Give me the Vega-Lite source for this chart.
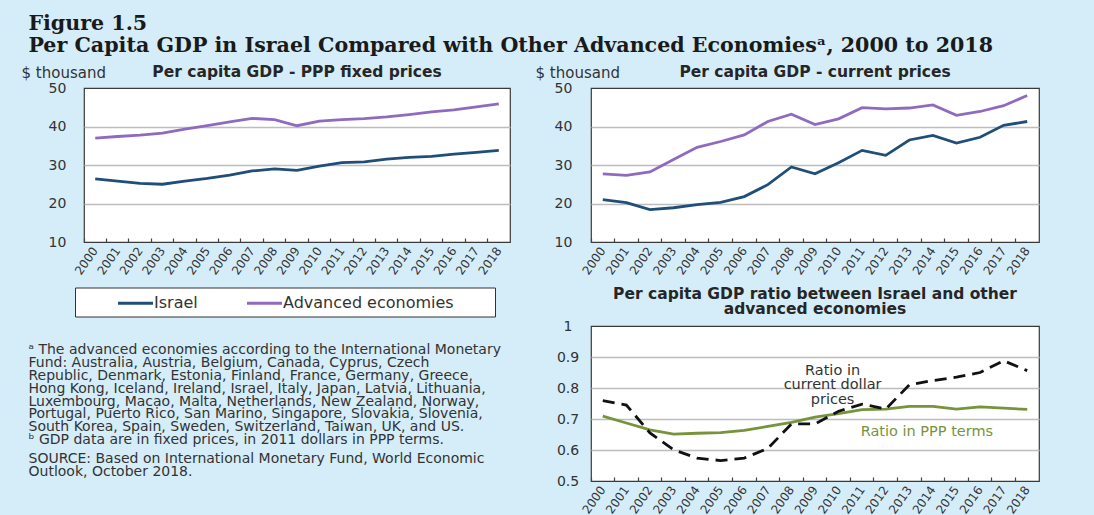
{
  "$schema": "https://vega.github.io/schema/vega-lite/v6.json",
  "background": "#d5edf9",
  "padding": {"left": 20, "top": 13, "right": 56, "bottom": 5},
  "title": {
    "text": ["Figure 1.5", "Per Capita GDP in Israel Compared with Other Advanced Economiesᵃ, 2000 to 2018"],
    "anchor": "start", "frame": "bounds", "dx": 8,
    "font": "DejaVu Serif", "fontSize": 20.6, "fontWeight": "bold", "color": "#1a1a1a",
    "lineHeight": 22, "offset": 8
  },
  "datasets": {
    "gdp": [
      {"year": 2000, "country": "Israel", "fixed": 26.4, "current": 21.0},
      {"year": 2001, "country": "Israel", "fixed": 25.8, "current": 20.2},
      {"year": 2002, "country": "Israel", "fixed": 25.25, "current": 18.4},
      {"year": 2003, "country": "Israel", "fixed": 25.0, "current": 18.9},
      {"year": 2004, "country": "Israel", "fixed": 25.8, "current": 19.7},
      {"year": 2005, "country": "Israel", "fixed": 26.5, "current": 20.3},
      {"year": 2006, "country": "Israel", "fixed": 27.4, "current": 21.8},
      {"year": 2007, "country": "Israel", "fixed": 28.45, "current": 24.9},
      {"year": 2008, "country": "Israel", "fixed": 29.0, "current": 29.5},
      {"year": 2009, "country": "Israel", "fixed": 28.6, "current": 27.7},
      {"year": 2010, "country": "Israel", "fixed": 29.7, "current": 30.6},
      {"year": 2011, "country": "Israel", "fixed": 30.6, "current": 33.8},
      {"year": 2012, "country": "Israel", "fixed": 30.8, "current": 32.5},
      {"year": 2013, "country": "Israel", "fixed": 31.5, "current": 36.5},
      {"year": 2014, "country": "Israel", "fixed": 32.0, "current": 37.7},
      {"year": 2015, "country": "Israel", "fixed": 32.25, "current": 35.7},
      {"year": 2016, "country": "Israel", "fixed": 32.85, "current": 37.2},
      {"year": 2017, "country": "Israel", "fixed": 33.3, "current": 40.3},
      {"year": 2018, "country": "Israel", "fixed": 33.8, "current": 41.3},
      {"year": 2000, "country": "Advanced economies", "fixed": 37.0, "current": 27.7},
      {"year": 2001, "country": "Advanced economies", "fixed": 37.4, "current": 27.3},
      {"year": 2002, "country": "Advanced economies", "fixed": 37.75, "current": 28.2},
      {"year": 2003, "country": "Advanced economies", "fixed": 38.3, "current": 31.4},
      {"year": 2004, "country": "Advanced economies", "fixed": 39.3, "current": 34.6},
      {"year": 2005, "country": "Advanced economies", "fixed": 40.25, "current": 36.1},
      {"year": 2006, "country": "Advanced economies", "fixed": 41.2, "current": 37.8},
      {"year": 2007, "country": "Advanced economies", "fixed": 42.1, "current": 41.3},
      {"year": 2008, "country": "Advanced economies", "fixed": 41.8, "current": 43.2},
      {"year": 2009, "country": "Advanced economies", "fixed": 40.2, "current": 40.5},
      {"year": 2010, "country": "Advanced economies", "fixed": 41.4, "current": 42.0},
      {"year": 2011, "country": "Advanced economies", "fixed": 41.8, "current": 44.9},
      {"year": 2012, "country": "Advanced economies", "fixed": 42.05, "current": 44.6},
      {"year": 2013, "country": "Advanced economies", "fixed": 42.5, "current": 44.8},
      {"year": 2014, "country": "Advanced economies", "fixed": 43.1, "current": 45.6},
      {"year": 2015, "country": "Advanced economies", "fixed": 43.8, "current": 42.9},
      {"year": 2016, "country": "Advanced economies", "fixed": 44.3, "current": 43.9},
      {"year": 2017, "country": "Advanced economies", "fixed": 45.1, "current": 45.4},
      {"year": 2018, "country": "Advanced economies", "fixed": 45.9, "current": 48.05}
    ],
    "ratio": [
      {"year": 2000, "measure": "PPP", "ratio": 0.709},
      {"year": 2001, "measure": "PPP", "ratio": 0.687},
      {"year": 2002, "measure": "PPP", "ratio": 0.665},
      {"year": 2003, "measure": "PPP", "ratio": 0.651},
      {"year": 2004, "measure": "PPP", "ratio": 0.654},
      {"year": 2005, "measure": "PPP", "ratio": 0.656},
      {"year": 2006, "measure": "PPP", "ratio": 0.663},
      {"year": 2007, "measure": "PPP", "ratio": 0.676},
      {"year": 2008, "measure": "PPP", "ratio": 0.689},
      {"year": 2009, "measure": "PPP", "ratio": 0.706},
      {"year": 2010, "measure": "PPP", "ratio": 0.717},
      {"year": 2011, "measure": "PPP", "ratio": 0.730},
      {"year": 2012, "measure": "PPP", "ratio": 0.732},
      {"year": 2013, "measure": "PPP", "ratio": 0.741},
      {"year": 2014, "measure": "PPP", "ratio": 0.741},
      {"year": 2015, "measure": "PPP", "ratio": 0.732},
      {"year": 2016, "measure": "PPP", "ratio": 0.739},
      {"year": 2017, "measure": "PPP", "ratio": 0.735},
      {"year": 2018, "measure": "PPP", "ratio": 0.731},
      {"year": 2000, "measure": "Current", "ratio": 0.759},
      {"year": 2001, "measure": "Current", "ratio": 0.745},
      {"year": 2002, "measure": "Current", "ratio": 0.655},
      {"year": 2003, "measure": "Current", "ratio": 0.601},
      {"year": 2004, "measure": "Current", "ratio": 0.574},
      {"year": 2005, "measure": "Current", "ratio": 0.566},
      {"year": 2006, "measure": "Current", "ratio": 0.574},
      {"year": 2007, "measure": "Current", "ratio": 0.605},
      {"year": 2008, "measure": "Current", "ratio": 0.684},
      {"year": 2009, "measure": "Current", "ratio": 0.684},
      {"year": 2010, "measure": "Current", "ratio": 0.725},
      {"year": 2011, "measure": "Current", "ratio": 0.748},
      {"year": 2012, "measure": "Current", "ratio": 0.732},
      {"year": 2013, "measure": "Current", "ratio": 0.81},
      {"year": 2014, "measure": "Current", "ratio": 0.824},
      {"year": 2015, "measure": "Current", "ratio": 0.835},
      {"year": 2016, "measure": "Current", "ratio": 0.85},
      {"year": 2017, "measure": "Current", "ratio": 0.888},
      {"year": 2018, "measure": "Current", "ratio": 0.856}
    ],
    "notes": [
      {"n": 1, "part": "note", "text": "ᵃ The advanced economies according to the International Monetary"},
      {"n": 2, "part": "note", "text": "Fund: Australia, Austria, Belgium, Canada, Cyprus, Czech"},
      {"n": 3, "part": "note", "text": "Republic, Denmark, Estonia, Finland, France, Germany, Greece,"},
      {"n": 4, "part": "note", "text": "Hong Kong, Iceland, Ireland, Israel, Italy, Japan, Latvia, Lithuania,"},
      {"n": 5, "part": "note", "text": "Luxembourg, Macao, Malta, Netherlands, New Zealand, Norway,"},
      {"n": 6, "part": "note", "text": "Portugal, Puerto Rico, San Marino, Singapore, Slovakia, Slovenia,"},
      {"n": 7, "part": "note", "text": "South Korea, Spain, Sweden, Switzerland, Taiwan, UK, and US."},
      {"n": 8, "part": "note", "text": "ᵇ GDP data are in fixed prices, in 2011 dollars in PPP terms."},
      {"n": 9, "part": "source", "text": "SOURCE: Based on International Monetary Fund, World Economic"},
      {"n": 10, "part": "source", "text": "Outlook, October 2018."}
    ]
  },
  "spacing": 23,
  "resolve": {"scale": {"color": "independent", "x": "independent", "y": "independent"}, "legend": {"color": "independent"}},
  "hconcat": [
    {
      "spacing": 24.5,
      "resolve": {"scale": {"color": "independent", "x": "independent", "y": "independent"}, "legend": {"color": "independent"}},
      "vconcat": [
        {
          "width": 426, "height": 154,
          "data": {"name": "gdp"},
          "title": {"text": "Per capita GDP - PPP fixed prices", "offset": -15},
          "mark": {"type": "line", "strokeWidth": 2.8},
          "encoding": {
            "x": {
              "field": "year", "type": "ordinal",
              "scale": {"type": "band", "paddingInner": 0, "paddingOuter": 0},
              "axis": {"title": null, "labelAngle": -55, "labelAlign": "right", "labelBaseline": "middle", "bandPosition": 0, "tickSize": -4, "tickColor": "#444", "tickWidth": 1.2, "labelPadding": 10, "labelFontSize": 12, "grid": false}
            },
            "y": {
              "field": "fixed", "type": "quantitative",
              "scale": {"domain": [10, 50], "nice": false},
              "axis": {
                "values": [10, 20, 30, 40, 50], "title": "$ thousand", "titleAngle": 0, "titleAlign": "left", "titleBaseline": "alphabetic",
                "titleX": -63, "titleY": -10.5, "labelPadding": 27,
                "gridColor": {"condition": {"test": "datum.value <= 10 || datum.value >= 50", "value": "transparent"}, "value": "#bdbdbd"},
                "gridWidth": 1.5
              }
            },
            "color": {
              "field": "country", "type": "nominal",
              "scale": {"domain": ["Israel", "Advanced economies"], "range": ["#1f4e79", "#8e6bbf"]},
              "legend": {
                "orient": "none", "legendX": -9, "legendY": 199.5, "direction": "horizontal",
                "title": "\u00a0", "titleOrient": "right", "titlePadding": 36,
                "symbolType": "M-2,0H2", "symbolSize": 306, "symbolStrokeWidth": 2.8,
                "labelFont": "DejaVu Sans", "labelFontSize": 16, "labelColor": "#333", "labelLimit": 300,
                "padding": 5, "strokeColor": "#333", "fillColor": "white",
                "columnPadding": 11, "symbolOffset": 45, "labelOffset": 8
              }
            }
          }
        },
        {
          "width": 1, "height": 129,
          "view": {"fill": null, "stroke": null},
          "data": {"name": "notes"},
          "layer": [
            {
              "transform": [{"filter": "datum.part == 'note'"}],
              "mark": {"type": "text", "align": "left", "baseline": "middle", "font": "DejaVu Sans", "fontSize": 14, "color": "#333", "dx": -56},
              "encoding": {
                "y": {"field": "n", "type": "ordinal", "axis": null},
                "text": {"field": "text"}
              }
            },
            {
              "transform": [{"filter": "datum.part == 'source'"}],
              "mark": {"type": "text", "align": "left", "baseline": "middle", "font": "DejaVu Sans", "fontSize": 14, "color": "#333", "dx": -56, "dy": 6},
              "encoding": {
                "y": {"field": "n", "type": "ordinal", "axis": null},
                "text": {"field": "text"}
              }
            }
          ]
        }
      ]
    },
    {
      "bounds": "flush",
      "spacing": 84,
      "resolve": {"scale": {"color": "independent", "x": "independent", "y": "independent"}, "legend": {"color": "independent"}},
      "vconcat": [
        {
          "width": 448, "height": 154,
          "data": {"name": "gdp"},
          "title": {"text": "Per capita GDP - current prices", "offset": -15},
          "mark": {"type": "line", "strokeWidth": 2.8},
          "encoding": {
            "x": {
              "field": "year", "type": "ordinal",
              "scale": {"type": "band", "paddingInner": 0, "paddingOuter": 0},
              "axis": {"title": null, "labelAngle": -55, "labelAlign": "right", "labelBaseline": "middle", "bandPosition": 0, "tickSize": -4, "tickColor": "#444", "tickWidth": 1.2, "labelPadding": 10, "labelFontSize": 12, "grid": false}
            },
            "y": {
              "field": "current", "type": "quantitative",
              "scale": {"domain": [10, 50], "nice": false},
              "axis": {
                "values": [10, 20, 30, 40, 50], "title": "$ thousand", "titleAngle": 0, "titleAlign": "left", "titleBaseline": "alphabetic",
                "titleX": -56, "titleY": -10.5, "labelPadding": 28,
                "gridColor": {"condition": {"test": "datum.value <= 10 || datum.value >= 50", "value": "transparent"}, "value": "#bdbdbd"},
                "gridWidth": 1.5
              }
            },
            "color": {
              "field": "country", "type": "nominal",
              "scale": {"domain": ["Israel", "Advanced economies"], "range": ["#1f4e79", "#8e6bbf"]},
              "legend": null
            }
          }
        },
        {
          "width": 448, "height": 155,
          "data": {"name": "ratio"},
          "title": {"text": ["Per capita GDP ratio between Israel and other", "advanced economies"], "lineHeight": 15, "offset": 2},
          "encoding": {
            "x": {
              "field": "year", "type": "ordinal",
              "scale": {"type": "band", "paddingInner": 0, "paddingOuter": 0},
              "axis": {"title": null, "labelAngle": -55, "labelAlign": "right", "labelBaseline": "middle", "bandPosition": 0, "tickSize": -4, "tickColor": "#444", "tickWidth": 1.2, "labelPadding": 10, "labelFontSize": 12, "grid": false}
            },
            "y": {
              "field": "ratio", "type": "quantitative",
              "scale": {"domain": [0.5, 1], "nice": false, "zero": false},
              "axis": {
                "values": [0.5, 0.6, 0.7, 0.8, 0.9, 1], "format": "~g", "title": null, "labelPadding": 23.5,
                "gridColor": {"condition": {"test": "datum.value <= 0.5 || datum.value >= 1", "value": "transparent"}, "value": "#bdbdbd"},
                "gridWidth": 1.5
              }
            }
          },
          "layer": [
            {
              "transform": [{"filter": "datum.measure == 'PPP'"}],
              "mark": {"type": "line", "strokeWidth": 2.8, "color": "#77933c"}
            },
            {
              "transform": [{"filter": "datum.measure == 'Current'"}],
              "mark": {"type": "line", "strokeWidth": 2.8, "color": "#111111", "strokeDash": [12, 7]}
            },
            {
              "transform": [{"filter": "datum.measure == 'Current' && datum.year == 2010"}],
              "mark": {"type": "text", "text": ["Ratio in", "current dollar", "prices"], "lineHeight": 14.5, "font": "DejaVu Sans", "fontSize": 14.5, "color": "#333", "align": "center", "baseline": "middle", "dx": -6},
              "encoding": {"x": {"datum": 2010, "type": "ordinal"}, "y": {"datum": 0.856, "type": "quantitative"}}
            },
            {
              "transform": [{"filter": "datum.measure == 'PPP' && datum.year == 2014"}],
              "mark": {"type": "text", "text": "Ratio in PPP terms", "font": "DejaVu Sans", "fontSize": 14.5, "color": "#77933c", "align": "center", "baseline": "middle", "dx": -6},
              "encoding": {"x": {"datum": 2014, "type": "ordinal"}, "y": {"datum": 0.658, "type": "quantitative"}}
            }
          ]
        }
      ]
    }
  ],
  "config": {
    "font": "DejaVu Sans",
    "view": {"fill": "white", "stroke": "#3a3a3a", "strokeWidth": 1.2},
    "axis": {"labelFont": "DejaVu Sans", "labelColor": "#333", "domain": false, "titleFont": "DejaVu Sans", "titleFontWeight": "normal", "titleColor": "#333", "titleFontSize": 15},
    "axisY": {"labelFontSize": 14, "labelAlign": "center", "labelBaseline": "middle", "ticks": false, "tickSize": 0},
    "title": {"font": "DejaVu Sans", "fontSize": 15.5, "fontWeight": "bold", "color": "#262626", "offset": 6}
  }
}
